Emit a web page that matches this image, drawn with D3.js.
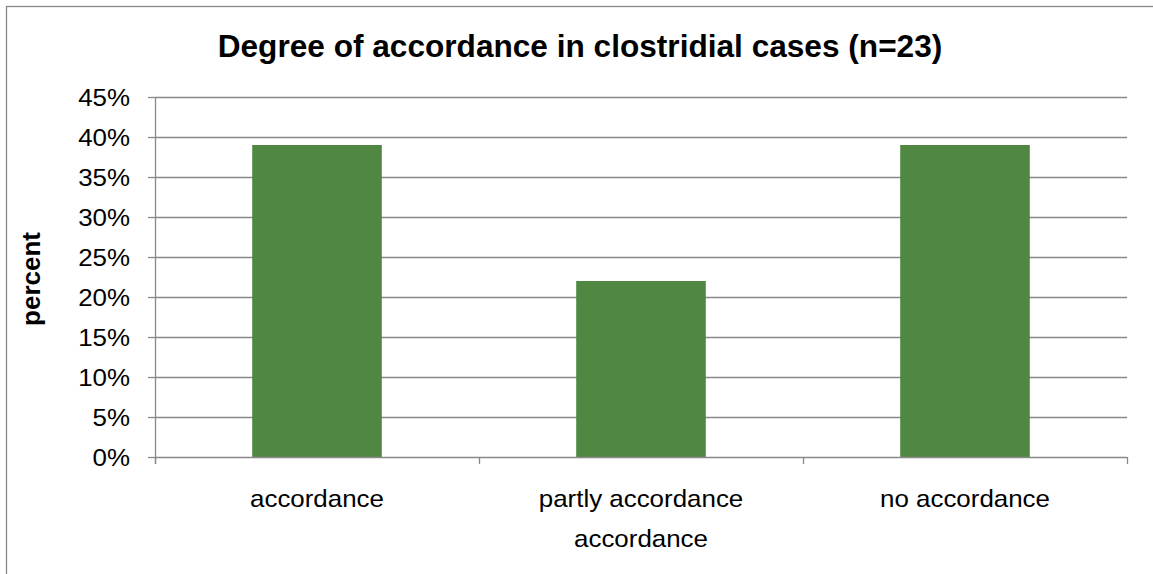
<!DOCTYPE html>
<html>
<head>
<meta charset="utf-8">
<script src="https://cdn.jsdelivr.net/npm/d3@7"></script>
<style>
  html, body { margin: 0; padding: 0; background: #fff; }
  svg { display: block; font-family: "Liberation Sans", Arial, sans-serif; }
</style>
</head>
<body>
<svg id="chart" width="1153" height="574"></svg>
<script>
// Share of clostridial cases by degree of accordance
const categories = ["accordance", "partly accordance", "no accordance"];
const categoryLines = [["accordance"], ["partly accordance", "accordance"], ["no accordance"]];
const percentValues = [39, 22, 39];
const yTicks = [0, 5, 10, 15, 20, 25, 30, 35, 40, 45];

const W = 1153, H = 574;
const margin = { left: 155, right: 26, top: 97, bottom: 117 };
const plotW = W - margin.left - margin.right;
const plotH = H - margin.top - margin.bottom;

const gridColor = "#898989";
const barColor = "#508743";
const textSX = 1.08;   // slight horizontal widening of label glyphs
const titleSX = 1.02;

const svg = d3.select("#chart");

// Outer chart frame (runs off the right and bottom edges)
svg.append("rect")
  .attr("x", 6.5).attr("y", 6.5)
  .attr("width", W).attr("height", H)
  .attr("fill", "none").attr("stroke", gridColor).attr("stroke-width", 1.3);

// Title
const titleCx = 580;
svg.append("text")
  .attr("transform", `scale(${titleSX},1)`)
  .attr("x", titleCx / titleSX).attr("y", 57)
  .attr("text-anchor", "middle")
  .attr("font-size", 31).attr("font-weight", "bold").attr("fill", "#000")
  .text("Degree of accordance in clostridial cases (n=23)");

const x = d3.scaleBand().domain(categories).range([0, plotW]).padding(0);
const y = d3.scaleLinear().domain([0, 45]).range([plotH, 0]);

const g = svg.append("g").attr("transform", `translate(${margin.left},${margin.top})`);

// Horizontal gridlines
g.append("g").selectAll("line")
  .data(yTicks.filter(d => d > 0))
  .join("line")
  .attr("x1", 0).attr("x2", plotW)
  .attr("y1", d => Math.round(y(d)) + 0.5).attr("y2", d => Math.round(y(d)) + 0.5)
  .attr("stroke", gridColor).attr("stroke-width", 1.3);

// Bars
const barW = x.bandwidth() * 0.4;
g.append("g").selectAll("rect")
  .data(categories)
  .join("rect")
  .attr("x", (d) => x(d) + (x.bandwidth() - barW) / 2)
  .attr("width", barW)
  .attr("y", (d, i) => y(percentValues[i]))
  .attr("height", (d, i) => plotH - y(percentValues[i]))
  .attr("fill", barColor);

// Y axis
const yAxis = d3.axisLeft(y).tickValues(yTicks).tickSize(7).tickFormat(d => d + "%");
const yAxisG = g.append("g").call(yAxis);
yAxisG.select(".domain").attr("stroke", gridColor).attr("stroke-width", 1.3)
  .attr("d", `M0.5,${plotH + 7}V0.5`);
yAxisG.selectAll(".tick line").attr("stroke", gridColor).attr("stroke-width", 1.3);
yAxisG.selectAll(".tick text")
  .attr("font-size", 24).attr("fill", "#000")
  .attr("font-family", "Liberation Sans, Arial, sans-serif")
  .attr("x", -25 / textSX).attr("dy", "0.35em")
  .attr("transform", `scale(${textSX},1)`);

// X axis: category boundary ticks
const xBase = g.append("g").attr("transform", `translate(0,${plotH})`);
xBase.append("line")
  .attr("x1", 0).attr("x2", plotW).attr("y1", 0.5).attr("y2", 0.5)
  .attr("stroke", gridColor).attr("stroke-width", 1.3);
const bounds = categories.map(d => x(d)).concat([plotW]);
xBase.selectAll("line.bt")
  .data(bounds)
  .join("line").attr("class", "bt")
  .attr("x1", d => Math.round(d) + 0.5).attr("x2", d => Math.round(d) + 0.5)
  .attr("y1", 0).attr("y2", 7)
  .attr("stroke", gridColor).attr("stroke-width", 1.3);

// Category labels
const labels = xBase.selectAll("text.cat")
  .data(categories)
  .join("text").attr("class", "cat")
  .attr("transform", `scale(${textSX},1)`)
  .attr("text-anchor", "middle")
  .attr("font-size", 24).attr("fill", "#000");
labels.each(function (d, i) {
  const cx = (x(d) + x.bandwidth() / 2) / textSX;
  d3.select(this).selectAll("tspan")
    .data(categoryLines[i])
    .join("tspan")
    .attr("x", cx)
    .attr("y", (t, j) => 50 + j * 40)
    .text(t => t);
});

// Y axis title
svg.append("text")
  .attr("transform", `translate(40,279) rotate(-90)`)
  .attr("text-anchor", "middle")
  .attr("font-size", 26).attr("font-weight", "bold").attr("fill", "#000")
  .text("percent");
</script>
</body>
</html>
